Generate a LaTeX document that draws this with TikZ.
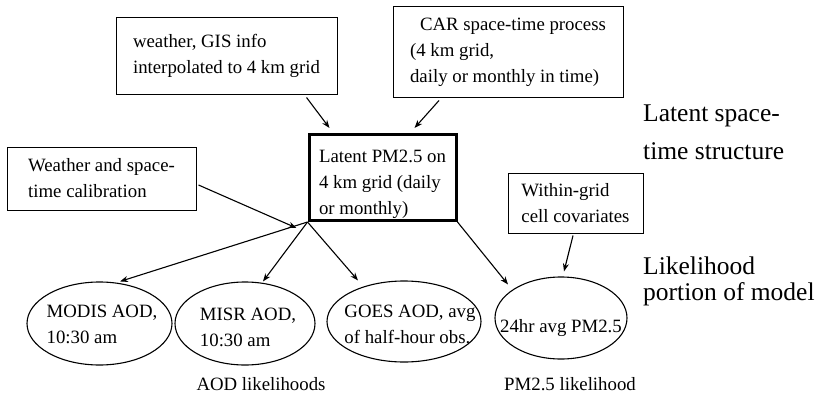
\documentclass[tikz,border=0pt]{standalone}
\usepackage{fontspec}
\setmainfont{Liberation Serif}
\usetikzlibrary{arrows.meta,shapes.geometric}
\newcommand\lowertext[2]{\raisebox{-#1}[\height][\depth]{\begin{tabular}{@{}l@{}}#2\end{tabular}}}
\newcommand\ovaltext[3]{\makebox[0pt][l]{\hspace*{#1}\makebox[0pt]{\raisebox{-\dimexpr#2+4.7pt\relax}[0pt][0pt]{\begin{tabular}{@{}l@{}}#3\end{tabular}}}}}
\begin{document}
\begin{tikzpicture}[x=1pt,y=-1pt,
  box/.style={draw, line width=1pt, align=left, inner sep=0pt, font=\fontsize{18.8}{26}\selectfont},
  mainbox/.style={box, line width=3pt},
  oval/.style={draw, ellipse, line width=1.1pt, inner sep=0pt, font=\fontsize{18.8}{26}\selectfont},
  bigtext/.style={align=left, inner sep=0pt, anchor=west, font=\fontsize{25.5}{38}\selectfont},
  captext/.style={inner sep=0pt, font=\fontsize{18.8}{26}\selectfont},
  arr/.style={-{Stealth[length=8pt,width=6pt]}, line width=1.1pt}]
\useasboundingbox (0,0) rectangle (819,396);

\node[box, minimum width=221pt, minimum height=76pt] (b1) at (226.5,56) {weather, GIS info\\interpolated to 4 km grid};
\node[box, minimum width=230pt, minimum height=90pt] (b2) at (508,52) {\hspace*{10pt}CAR space-time process\\(4 km grid,\\daily or monthly in time)};
\node[mainbox, minimum width=147pt, minimum height=86pt] (lat) at (382.5,177.5) {\lowertext{6pt}{Latent PM2.5 on\\4 km grid (daily\\or monthly)}};
\node[box, minimum width=189pt, minimum height=63pt] (cal) at (101.5,178.5) {Weather and space-\\time calibration};
\node[box, minimum width=135pt, minimum height=60pt] (win) at (575.5,203) {Within-grid\\cell covariates};

\node[oval, minimum width=145pt, minimum height=83pt] (modis) at (99.5,323.5) {\ovaltext{2.5pt}{1.5pt}{MODIS AOD,\\10:30 am}};
\node[oval, minimum width=140pt, minimum height=83pt] (misr) at (245,323.5) {\ovaltext{3pt}{4pt}{MISR AOD,\\10:30 am}};
\node[oval, minimum width=154pt, minimum height=81pt] (goes) at (404,321.5) {\ovaltext{6pt}{3pt}{GOES AOD, avg\\of half-hour obs.}};
\node[oval, minimum width=132pt, minimum height=82pt] (pm) at (561,318) {\ovaltext{0pt}{8.5pt}{24hr avg PM2.5}};

\node[bigtext] (lst) at (643,132.5) {Latent space-\\time structure};
\node[bigtext, font=\fontsize{25.5}{26}\selectfont] (lpm) at (643,281) {Likelihood\\portion of model};
\node[captext] (aodl) at (261,384) {AOD likelihoods};
\node[captext] (pml) at (570,384) {PM2.5 likelihood};

\draw[arr] ([xshift=80pt,yshift=-3pt]b1.south) -- ([xshift=-53pt,yshift=5pt]lat.north);
\draw[arr] ([xshift=-69pt,yshift=-3pt]b2.south) -- ([xshift=32pt,yshift=5pt]lat.north);
\draw[arr] ([xshift=2pt,yshift=-6.5pt]cal.east) -- ([xshift=-11pt,yshift=-6pt]lat.south west);
\draw[arr] (lat.south west) -- ([xshift=20.5pt]modis.north);
\draw[arr] (lat.south west) -- ([xshift=18pt]misr.north);
\draw[arr] (lat.south west) -- ([xshift=-46pt]goes.north);
\draw[arr] (lat.south east) -- ([xshift=-53pt,yshift=-8pt]pm.north);
\draw[arr] ([xshift=-2.5pt,yshift=-2pt]win.south) -- ([xshift=3pt,yshift=5pt]pm.north);
\end{tikzpicture}
\end{document}
